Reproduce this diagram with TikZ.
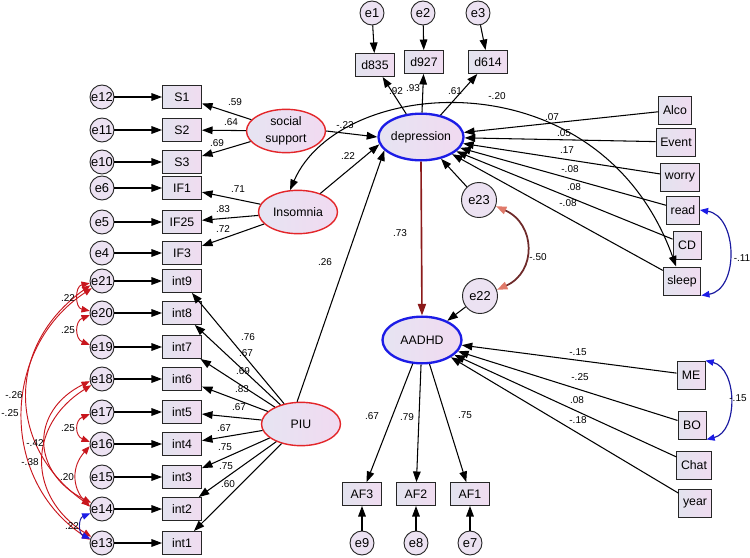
\documentclass[tikz,border=0pt]{standalone}
\usepackage{fontspec}
\setmainfont{Liberation Sans}
\usepackage{tikz}
\usetikzlibrary{shapes.geometric, arrows.meta, positioning}
\definecolor{boxl}{HTML}{E3E3EF}
\definecolor{boxr}{HTML}{F0DCF0}
\definecolor{errf}{HTML}{ECE2F2}
\definecolor{latl}{HTML}{E6E4F2}
\definecolor{latr}{HTML}{F1DAF1}
\definecolor{latred}{HTML}{E3262A}
\definecolor{latblue}{HTML}{1C1CE6}
\definecolor{pathred}{HTML}{8B1A1A}
\definecolor{covred}{HTML}{C8161D}
\definecolor{covbrown}{HTML}{6E2A2A}
\definecolor{salm}{HTML}{E07A6A}
\definecolor{covblue}{HTML}{1A1AA0}
\tikzstyle{obs} = [rectangle, draw=black!85, thick, left color=boxl, right color=boxr, minimum width=1.17cm, minimum height=0.69cm, inner sep=1pt, font=\fontsize{10.5}{12}\selectfont]
\tikzstyle{obsr} = [obs, minimum width=0.84cm, minimum height=0.84cm, inner xsep=3.5pt]
\tikzstyle{err} = [circle, draw=black!85, thick, fill=errf, minimum size=0.72cm, inner sep=0pt, font=\fontsize{11}{12}\selectfont]
\tikzstyle{errbig} = [err, minimum size=1.05cm]
\tikzstyle{latent} = [ellipse, left color=latl, right color=latr, minimum width=2.37cm, minimum height=1.3cm, inner sep=0pt, align=center, font=\fontsize{10.5}{14}\selectfont]
\tikzstyle{latr} = [latent, draw=latred, line width=1.2pt]
\tikzstyle{latb} = [latent, draw=latblue, line width=2pt, minimum height=1.4cm]
\tikzstyle{reg} = [line width=0.9pt, -{Triangle[length=9pt,width=6.5pt]}]
\tikzstyle{covk} = [line width=0.9pt, {Triangle[length=9pt,width=6.5pt]}-{Triangle[length=9pt,width=6.5pt]}]
\tikzstyle{covl} = [line width=0.8pt, draw=covred, {Triangle[length=7pt,width=5.5pt,color=covred]}-{Triangle[length=7pt,width=5.5pt,color=covred]}]
\tikzstyle{covb} = [line width=1pt, draw=covblue, {Triangle[length=7pt,width=5.5pt,color=latblue]}-{Triangle[length=7pt,width=5.5pt,color=latblue]}]
\tikzstyle{lbl} = [inner sep=0pt, font=\fontsize{8.5}{10}\selectfont]

\begin{document}
\begin{tikzpicture}[x=0.03cm, y=-0.03cm]
\useasboundingbox (0,0) rectangle (750,558);

% latent variables
\node[latr] (ss) at (286,131) {social\\support};
\node[latr] (ins) at (298,212) {Insomnia};
\node[latr] (piu) at (301,424) {PIU};
\node[latb] (dep) at (421,137) {depression};
\node[latb] (adhd) at (422,340) {AADHD};

% left column
\foreach \n/\e/\y in {S1/e12/97, S2/e11/130, S3/e10/162, IF1/e6/188, IF25/e5/222, IF3/e4/253,
    int9/e21/281, int8/e20/313, int7/e19/347, int6/e18/379, int5/e17/412, int4/e16/444,
    int3/e15/477, int2/e14/509, int1/e13/543}{
  \node[obs] (\n) at (182,\y) {\n};
  \node[err] (\e) at (102,\y) {\e};
  \draw[reg] (\e) -- (\n);
}
\foreach \n in {S1,S2,S3} \draw[reg] (ss) -- (\n);
\foreach \n in {IF1,IF25,IF3} \draw[reg] (ins) -- (\n);
\foreach \n in {int1,int2,int3,int4,int5,int6,int7,int8,int9} \draw[reg] (piu) -- (\n);

% depression indicators
\foreach \n/\e/\x/\xe/\y in {d835/e1/375/372/65, d927/e2/424/423/62, d614/e3/488/478/62}{
  \node[obs] (\n) at (\x,\y) {\n};
  \node[err] (\e) at (\xe,13) {\e};
  \draw[reg] (\e) -- (\n);
  \draw[reg] (dep) -- (\n);
}

% AADHD indicators
\foreach \n/\e/\x in {AF3/e9/362, AF2/e8/416, AF1/e7/470}{
  \node[obs] (\n) at (\x,494) {\n};
  \node[err] (\e) at (\x,543) {\e};
  \draw[reg] (\e) -- (\n);
  \draw[reg] (adhd) -- (\n);
}

% covariates
\foreach \n/\x/\y in {Alco/675/110, Event/676/142, worry/680/177, read/683/210, CD/687/245, sleep/682/281}{
  \node[obsr] (\n) at (\x,\y) {\n};
  \draw[reg] (\n) -- (dep);
}
\foreach \n/\x/\y in {ME/691/375, BO/692/425, Chat/694/465, year/695/503}{
  \node[obsr] (\n) at (\x,\y) {\n};
  \draw[reg] (\n) -- (adhd);
}

% structural paths
\node[errbig] (e23) at (479,200) {e23};
\node[errbig] (e22) at (480,296) {e22};
\draw[reg] (ss.east) -- (dep.west);
\draw[reg] (ins) -- (dep.190);
\draw[reg] (piu.100) -- (dep.200);
\draw[reg] (e23) -- (dep);
\draw[reg] (e22) -- (adhd);
\draw[line width=1.4pt, draw=pathred, -{Triangle[length=10pt,width=7pt,color=pathred]}] (dep.south) -- (adhd.north);

% covariances
\draw[covk] (ins.110) .. controls (340,75) and (600,55) .. (sleep.112);
\draw[line width=1.5pt, draw=covbrown, {Triangle[length=9pt,width=6.5pt,color=salm]}-{Triangle[length=9pt,width=6.5pt,color=salm]}]
  (e23.340) .. controls +(40,18) and +(40,-18) .. (e22.20);
\draw[covb] (read.east) .. controls +(38,6) and +(38,-6) .. (sleep.south east);
\draw[covb] (ME.north east) .. controls +(32,8) and +(32,-8) .. (BO.south east);
\draw[covl] (e21.190) .. controls +(-15,3) and +(-15,-3) .. (e20.170);
\draw[covl] (e20.190) .. controls +(-15,6) and +(-15,-6) .. (e19.170);
\draw[covl] (e17.190) .. controls +(-15,6) and +(-15,-6) .. (e16.170);
\draw[covl] (e16.190) .. controls +(-18,20) and +(-18,-20) .. (e14.170);
\draw[covl] (e21.200) .. controls +(-84,60) and +(-84,-60) .. (e14.165);
\draw[covl] (e21.215) .. controls +(-91,60) and +(-91,-60) .. (e13.165);
\draw[covl] (e18.190) .. controls +(-60,30) and +(-60,-30) .. (e14.150);
\draw[covl] (e18.210) .. controls +(-64,40) and +(-64,-40) .. (e13.150);
\draw[covb, line width=0.8pt] (e14.200) .. controls +(-12,5) and +(-12,-5) .. (e13.160);

% estimates
\foreach \t/\x/\y [count=\i] in {.59/235/102, .64/231/122, .69/217/143, .71/238/189, .83/223/209, .72/223/229,
    .76/248/337, .67/246/353, .69/243/371, .83/242/389, .67/239/407, .67/224/428, .75/225/447, .75/226/466, .60/228/484,
    .92/396/91, .93/413/88, .61/455/91, -.23/345/125, .22/348/156, .26/325/262, -.20/497/96,
    .07/552/117, .05/564/133, .17/567/150, -.08/570/169, .08/574/187, -.08/568/203,
    .73/400/233, -.50/538/257, -.11/742/258, -.15/738/398,
    -.15/578/352, -.25/580/377, .08/577/400, -.18/578/420,
    .67/372/416, .79/407/417, .75/465/415,
    .22/68/298, .25/68/330, -.26/14/395, -.25/10/413, -.42/35/443, -.38/30/462, .25/68/428, .20/67/477, .22/72/526}
  \node[lbl] (lab\i) at (\x,\y) {\t};
\end{tikzpicture}
\end{document}
